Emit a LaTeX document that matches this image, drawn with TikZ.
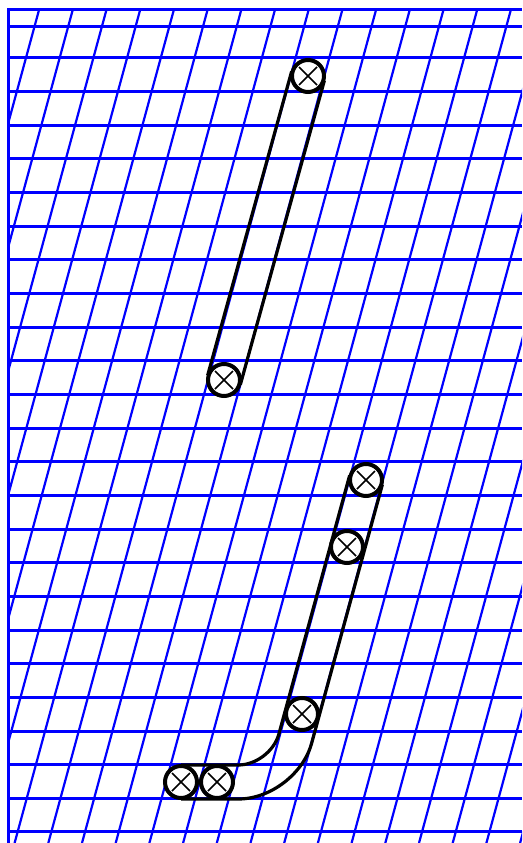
\documentclass[tikz,border=0pt]{standalone}
\usepackage{tikz}
\usetikzlibrary{positioning}
\definecolor{RuleBlue}{RGB}{0,0,255}

\begin{document}
\begin{tikzpicture}[
    x=1pt,y=-1pt,
    rule/.style={draw=RuleBlue, line width=3pt},
    slant/.style={draw=RuleBlue, line width=2.2pt},
    outline/.style={draw=black, line width=3.2pt},
    marker/.style={circle, draw=black, fill=white, line width=4pt, minimum size=32pt, inner sep=0pt, outer sep=1pt,
      path picture={\draw[line width=1.6pt] (path picture bounding box.center) ++(-9,-9) -- ++(18,18);
                    \draw[line width=1.6pt] (path picture bounding box.center) ++(-9,9) -- ++(18,-18);}}
  ]
  \useasboundingbox (0,0) rectangle (522,843);
  % ruled sheet
  \begin{scope}
    \clip (8,10) rectangle (522,843);
    \foreach \n in {0,...,22} {
      \draw[slant] (39+33.7*\n,10) -- ++(-226.6,833);
    }
  \end{scope}
  \foreach \k in {0,...,23} {
    \draw[rule] (8,58+33.65*\k) -- (522,58+33.65*\k);
  }
  \draw[rule] (8,27) -- (522,27);
  \draw[rule] (8,843) -- (8,10) -- (522,10);
  % first stroke
  \node[marker] (a1) at (308,76) {};
  \node[marker] (a2) at (224,380) {};
  \draw[outline] (a1.164.55) -- (a2.164.55);
  \draw[outline] (a1.344.55) -- (a2.344.55);
  % hooked stroke
  \foreach \name/\x/\y in {j1/366/480, j2/347/547, j3/302/714, j4/217/782, j5/181/782} {
    \node[marker] (\name) at (\x,\y) {};
  }
  \coordinate (innerbend) at (270.4,765);
  \coordinate (outerbend) at (296.4,799);
  \draw[outline, rounded corners=32pt] (j1.164.6) -- (innerbend) -- (j5.north);
  \draw[outline, rounded corners=58pt] (j1.344.6) -- (outerbend) -- (j5.south);
\end{tikzpicture}
\end{document}
